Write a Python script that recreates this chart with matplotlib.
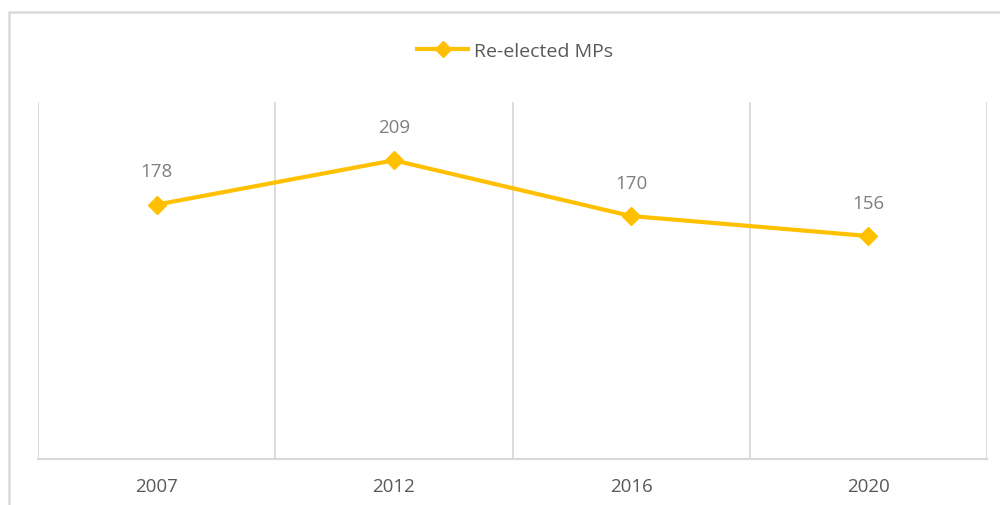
import matplotlib.pyplot as plt
from matplotlib.patches import Rectangle

years = ["2007", "2012", "2016", "2020"]
reelected = [178, 209, 170, 156]

plt.rcParams['font.family'] = ['Open Sans', 'DejaVu Sans']

fig = plt.figure(figsize=(10, 5.06), dpi=100)
ax = fig.add_axes([0.038, 0.091, 0.949, 0.706])

x = range(len(years))
ax.plot(x, reelected, color='#FFC000', linewidth=3, marker='D', markersize=9,
        label='Re-elected MPs', zorder=3)

for xi, v in zip(x, reelected):
    ax.annotate(str(v), (xi, v), xytext=(0, 24), textcoords='offset points',
                ha='center', va='center', fontsize=13.5, color='#7F7F7F')

ax.set_xlim(-0.5, len(years) - 0.5)
ax.set_ylim(0, 250)
ax.set_xticks(list(x))
ax.set_xticklabels(years)
ax.tick_params(axis='x', length=0, pad=13)
ax.set_yticks([])

# category boundary gridlines
for b in [i + 0.5 for i in range(-1, len(years))]:
    ax.axvline(b, color='#D9D9D9', linewidth=1.3, zorder=1)

for s in ['top', 'right', 'left']:
    ax.spines[s].set_visible(False)
ax.spines['bottom'].set_color('#D9D9D9')
ax.spines['bottom'].set_linewidth(1.5)

for lbl in ax.get_xticklabels():
    lbl.set_fontproperties({'family': ['Open Sans', 'DejaVu Sans'], 'size': 13.5})
    lbl.set_color('#595959')

leg = fig.legend(loc='center', bbox_to_anchor=(0.515, 0.897), frameon=False,
                 fontsize=14, handlelength=2.6, handletextpad=0.3, markerscale=0.85)
for t in leg.get_texts():
    t.set_color('#595959')

# outer chart border
fig.patches.append(Rectangle((0.009, -0.1), 1.2, 1.074, transform=fig.transFigure,
                             fill=False, edgecolor='#D9D9D9', linewidth=1.8))

fig.savefig('out.png', dpi=100, facecolor='white')
